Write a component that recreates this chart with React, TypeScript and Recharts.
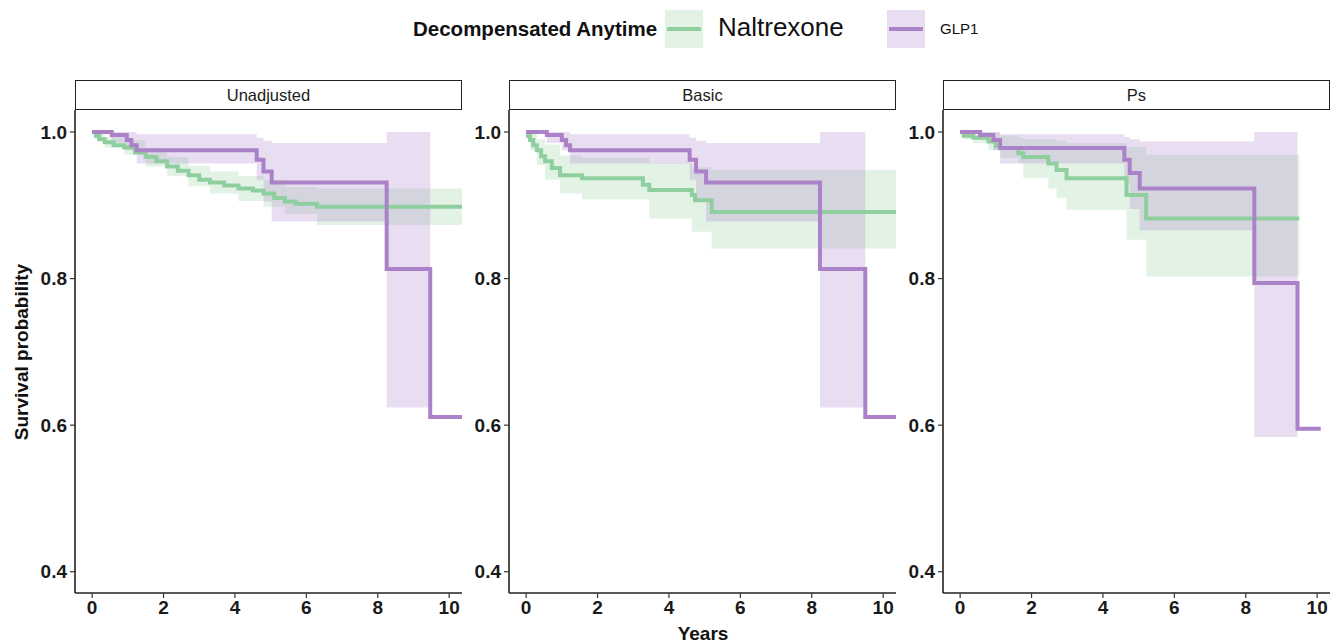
import { ComposedChart, Line, Area, XAxis, YAxis } from 'recharts';

const yearTicks = [0, 2, 4, 6, 8, 10];
const survTicks = [0.4, 0.6, 0.8, 1.0];
const panelNames = ['Unadjusted', 'Basic', 'Ps'];
const groupNames = ['Naltrexone', 'GLP1'];

// [years, survival]
const unadjNaltrexone = [
  [0, 1.0], [0.1, 0.995], [0.2, 0.99], [0.35, 0.986], [0.6, 0.982], [0.9, 0.979], [1.2, 0.972],
  [1.5, 0.966], [1.8, 0.96], [2.1, 0.953], [2.4, 0.947], [2.7, 0.941], [3.0, 0.935], [3.3, 0.931],
  [3.7, 0.927], [4.1, 0.923], [4.5, 0.92], [4.8, 0.916], [5.1, 0.91], [5.4, 0.905], [5.7, 0.902],
  [6.3, 0.898], [10.36, 0.898],
];
// [years, lower, upper]
const unadjNaltrexoneCI = [
  [0, 1.0, 1.0], [0.1, 0.99, 0.999], [0.35, 0.979, 0.993], [0.9, 0.969, 0.989], [1.5, 0.953, 0.978],
  [2.1, 0.94, 0.966], [2.7, 0.926, 0.954], [3.3, 0.916, 0.946], [4.1, 0.906, 0.94], [4.8, 0.898, 0.934],
  [5.4, 0.888, 0.925], [6.3, 0.873, 0.923], [10.36, 0.873, 0.923],
];
const unadjGlp1 = [
  [0, 1.0], [0.55, 0.996], [0.97, 0.989], [1.1, 0.982], [1.25, 0.975], [4.61, 0.962], [4.8, 0.946],
  [5.03, 0.931], [8.25, 0.813], [9.47, 0.611], [10.36, 0.611],
];
const unadjGlp1CI = [
  [0, 1.0, 1.0], [0.55, 0.985, 1.0], [0.97, 0.975, 1.0], [1.25, 0.957, 0.997], [4.61, 0.935, 0.992],
  [4.8, 0.905, 0.988], [5.03, 0.878, 0.985], [8.25, 0.624, 1.0], [9.47, 0.624, 1.0],
];

const basicNaltrexone = [
  [0, 1.0], [0.05, 0.995], [0.11, 0.989], [0.2, 0.982], [0.3, 0.975], [0.42, 0.967], [0.53, 0.96],
  [0.72, 0.951], [0.95, 0.941], [1.56, 0.937], [3.27, 0.928], [3.45, 0.921], [4.64, 0.914],
  [4.73, 0.907], [5.2, 0.891], [10.36, 0.891],
];
const basicNaltrexoneCI = [
  [0, 1.0, 1.0], [0.11, 0.975, 0.998], [0.3, 0.955, 0.99], [0.53, 0.935, 0.983], [0.95, 0.916, 0.968],
  [1.56, 0.908, 0.965], [3.45, 0.882, 0.958], [4.64, 0.864, 0.952], [5.2, 0.841, 0.948], [10.36, 0.841, 0.948],
];
const basicGlp1 = [
  [0, 1.0], [0.58, 0.996], [1.0, 0.989], [1.12, 0.982], [1.23, 0.975], [4.58, 0.962], [4.76, 0.946],
  [5.04, 0.931], [8.23, 0.813], [9.5, 0.611], [10.36, 0.611],
];
const basicGlp1CI = [
  [0, 1.0, 1.0], [0.58, 0.985, 1.0], [1.0, 0.975, 1.0], [1.23, 0.957, 0.997], [4.58, 0.935, 0.992],
  [4.76, 0.905, 0.988], [5.04, 0.878, 0.985], [8.23, 0.624, 1.0], [9.5, 0.624, 1.0],
];

const psNaltrexone = [
  [0, 1.0], [0.1, 0.995], [0.37, 0.992], [0.79, 0.987], [1.0, 0.981], [1.12, 0.978], [1.63, 0.971],
  [1.77, 0.966], [2.47, 0.957], [2.7, 0.948], [2.98, 0.937], [4.66, 0.914], [5.21, 0.882], [9.5, 0.882],
];
const psNaltrexoneCI = [
  [0, 1.0, 1.0], [0.1, 0.99, 1.0], [0.37, 0.985, 1.0], [0.79, 0.975, 0.999], [1.12, 0.965, 0.995],
  [1.63, 0.957, 0.992], [1.77, 0.937, 0.99], [2.47, 0.923, 0.99], [2.7, 0.91, 0.988], [2.98, 0.894, 0.985],
  [4.66, 0.853, 0.98], [5.21, 0.803, 0.969], [9.5, 0.803, 0.969],
];
const psGlp1 = [
  [0, 1.0], [0.56, 0.996], [0.93, 0.989], [1.12, 0.978], [4.6, 0.962], [4.75, 0.944], [5.03, 0.923],
  [8.24, 0.794], [9.45, 0.595], [10.1, 0.595],
];
const psGlp1CI = [
  [0, 1.0, 1.0], [0.56, 0.99, 1.0], [0.93, 0.975, 1.0], [1.12, 0.957, 0.997], [4.6, 0.93, 0.993],
  [4.75, 0.895, 0.99], [5.03, 0.866, 0.987], [8.24, 0.584, 1.0], [9.45, 0.584, 1.0],
];

const curves = [
  [unadjNaltrexone, unadjNaltrexoneCI, unadjGlp1, unadjGlp1CI],
  [basicNaltrexone, basicNaltrexoneCI, basicGlp1, basicGlp1CI],
  [psNaltrexone, psNaltrexoneCI, psGlp1, psGlp1CI],
];

const GREEN = '#8fcf9f';
const PURPLE = '#ab82c8';
const GREEN_FILL = '#9ed8ad';
const PURPLE_FILL = '#b28fd0';

const PLOT_LEFT = [75, 509, 943];
const PLOT_W = 387;
const PLOT_TOP = 110;
const PLOT_H = 483;
const YAXIS_W = 65;
const XAXIS_H = 45;

const toLine = (rows: number[][]) => rows.map(([t, s]) => ({ t, s }));
const toBand = (rows: number[][]) => rows.map(([t, lo, hi]) => ({ t, ci: [lo, hi] }));

const tickStyle = { fontSize: 19, fontWeight: 700, fill: '#1a1a1a', fontFamily: 'Liberation Sans, Arial, sans-serif' };

function Panel({ idx }: { idx: number }) {
  const [nal, nalCI, glp, glpCI] = curves[idx];
  return (
    <div style={{ position: 'absolute', left: PLOT_LEFT[idx] - YAXIS_W, top: PLOT_TOP }}>
      <ComposedChart width={YAXIS_W + PLOT_W} height={PLOT_H + XAXIS_H} margin={{ top: 0, right: 0, left: 0, bottom: 0 }}>
        <XAxis
          type="number"
          dataKey="t"
          domain={[-0.48, 10.36]}
          ticks={yearTicks}
          allowDataOverflow
          height={XAXIS_H}
          tick={tickStyle}
          tickSize={5}
          tickMargin={3}
          axisLine={{ stroke: '#222', strokeWidth: 1.6 }}
          tickLine={{ stroke: '#333', strokeWidth: 1.2 }}
        />
        <YAxis
          type="number"
          domain={[0.371, 1.03]}
          ticks={survTicks}
          allowDataOverflow
          width={YAXIS_W}
          tick={tickStyle}
          tickSize={5}
          tickMargin={3}
          tickFormatter={(v: number) => v.toFixed(1)}
          axisLine={{ stroke: '#222', strokeWidth: 1.6 }}
          tickLine={{ stroke: '#333', strokeWidth: 1.2 }}
        />
        <Line data={toLine(nal)} dataKey="s" type="stepAfter" stroke={GREEN} strokeWidth={4} dot={false} activeDot={false} isAnimationActive={false} />
        <Line data={toLine(glp)} dataKey="s" type="stepAfter" stroke={PURPLE} strokeWidth={4} dot={false} activeDot={false} isAnimationActive={false} />
        <Area data={toBand(nalCI)} dataKey="ci" type="stepAfter" stroke="none" fill={GREEN_FILL} fillOpacity={0.3} dot={false} activeDot={false} isAnimationActive={false} />
        <Area data={toBand(glpCI)} dataKey="ci" type="stepAfter" stroke="none" fill={PURPLE_FILL} fillOpacity={0.3} dot={false} activeDot={false} isAnimationActive={false} />
      </ComposedChart>
    </div>
  );
}

function Strip({ idx }: { idx: number }) {
  return (
    <div
      style={{
        position: 'absolute', left: PLOT_LEFT[idx], top: 80, width: PLOT_W, height: 30, boxSizing: 'border-box',
        border: '1.5px solid #222', background: '#fff', display: 'flex', alignItems: 'center', justifyContent: 'center',
        fontSize: 16.5, color: '#1a1a1a',
      }}
    >
      {panelNames[idx]}
    </div>
  );
}

function LegendKey({ left, color, fill }: { left: number; color: string; fill: string }) {
  return (
    <div style={{ position: 'absolute', left, top: 10, width: 38, height: 38 }}>
      <div style={{ position: 'absolute', inset: 0, background: fill, opacity: 0.3 }} />
      <div style={{ position: 'absolute', left: 2, right: 2, top: 17, height: 4, background: color }} />
    </div>
  );
}

export default function App() {
  return (
    <div
      style={{
        position: 'absolute', left: 0, top: 0, width: 1330, height: 644, background: '#fff', overflow: 'hidden',
        fontFamily: 'Liberation Sans, Arial, sans-serif',
      }}
    >
      <div style={{ position: 'absolute', left: 413, top: 17, fontSize: 20.5, fontWeight: 700, color: '#111', whiteSpace: 'nowrap' }}>
        Decompensated Anytime
      </div>
      <LegendKey left={665} color={GREEN} fill={GREEN_FILL} />
      <div style={{ position: 'absolute', left: 718, top: 12, fontSize: 26, color: '#111', whiteSpace: 'nowrap' }}>{groupNames[0]}</div>
      <LegendKey left={887} color={PURPLE} fill={PURPLE_FILL} />
      <div style={{ position: 'absolute', left: 940, top: 20, fontSize: 15, color: '#111', whiteSpace: 'nowrap' }}>{groupNames[1]}</div>

      {[0, 1, 2].map((i) => (
        <Strip key={'s' + i} idx={i} />
      ))}
      {[0, 1, 2].map((i) => (
        <Panel key={'p' + i} idx={i} />
      ))}

      <div
        style={{
          position: 'absolute', left: 22, top: 352, transform: 'translate(-50%, -50%) rotate(-90deg)',
          fontSize: 19, fontWeight: 700, color: '#111', whiteSpace: 'nowrap',
        }}
      >
        Survival probability
      </div>
      <div style={{ position: 'absolute', left: 703, top: 634, transform: 'translate(-50%, -50%)', fontSize: 19, fontWeight: 700, color: '#111' }}>
        Years
      </div>
    </div>
  );
}
